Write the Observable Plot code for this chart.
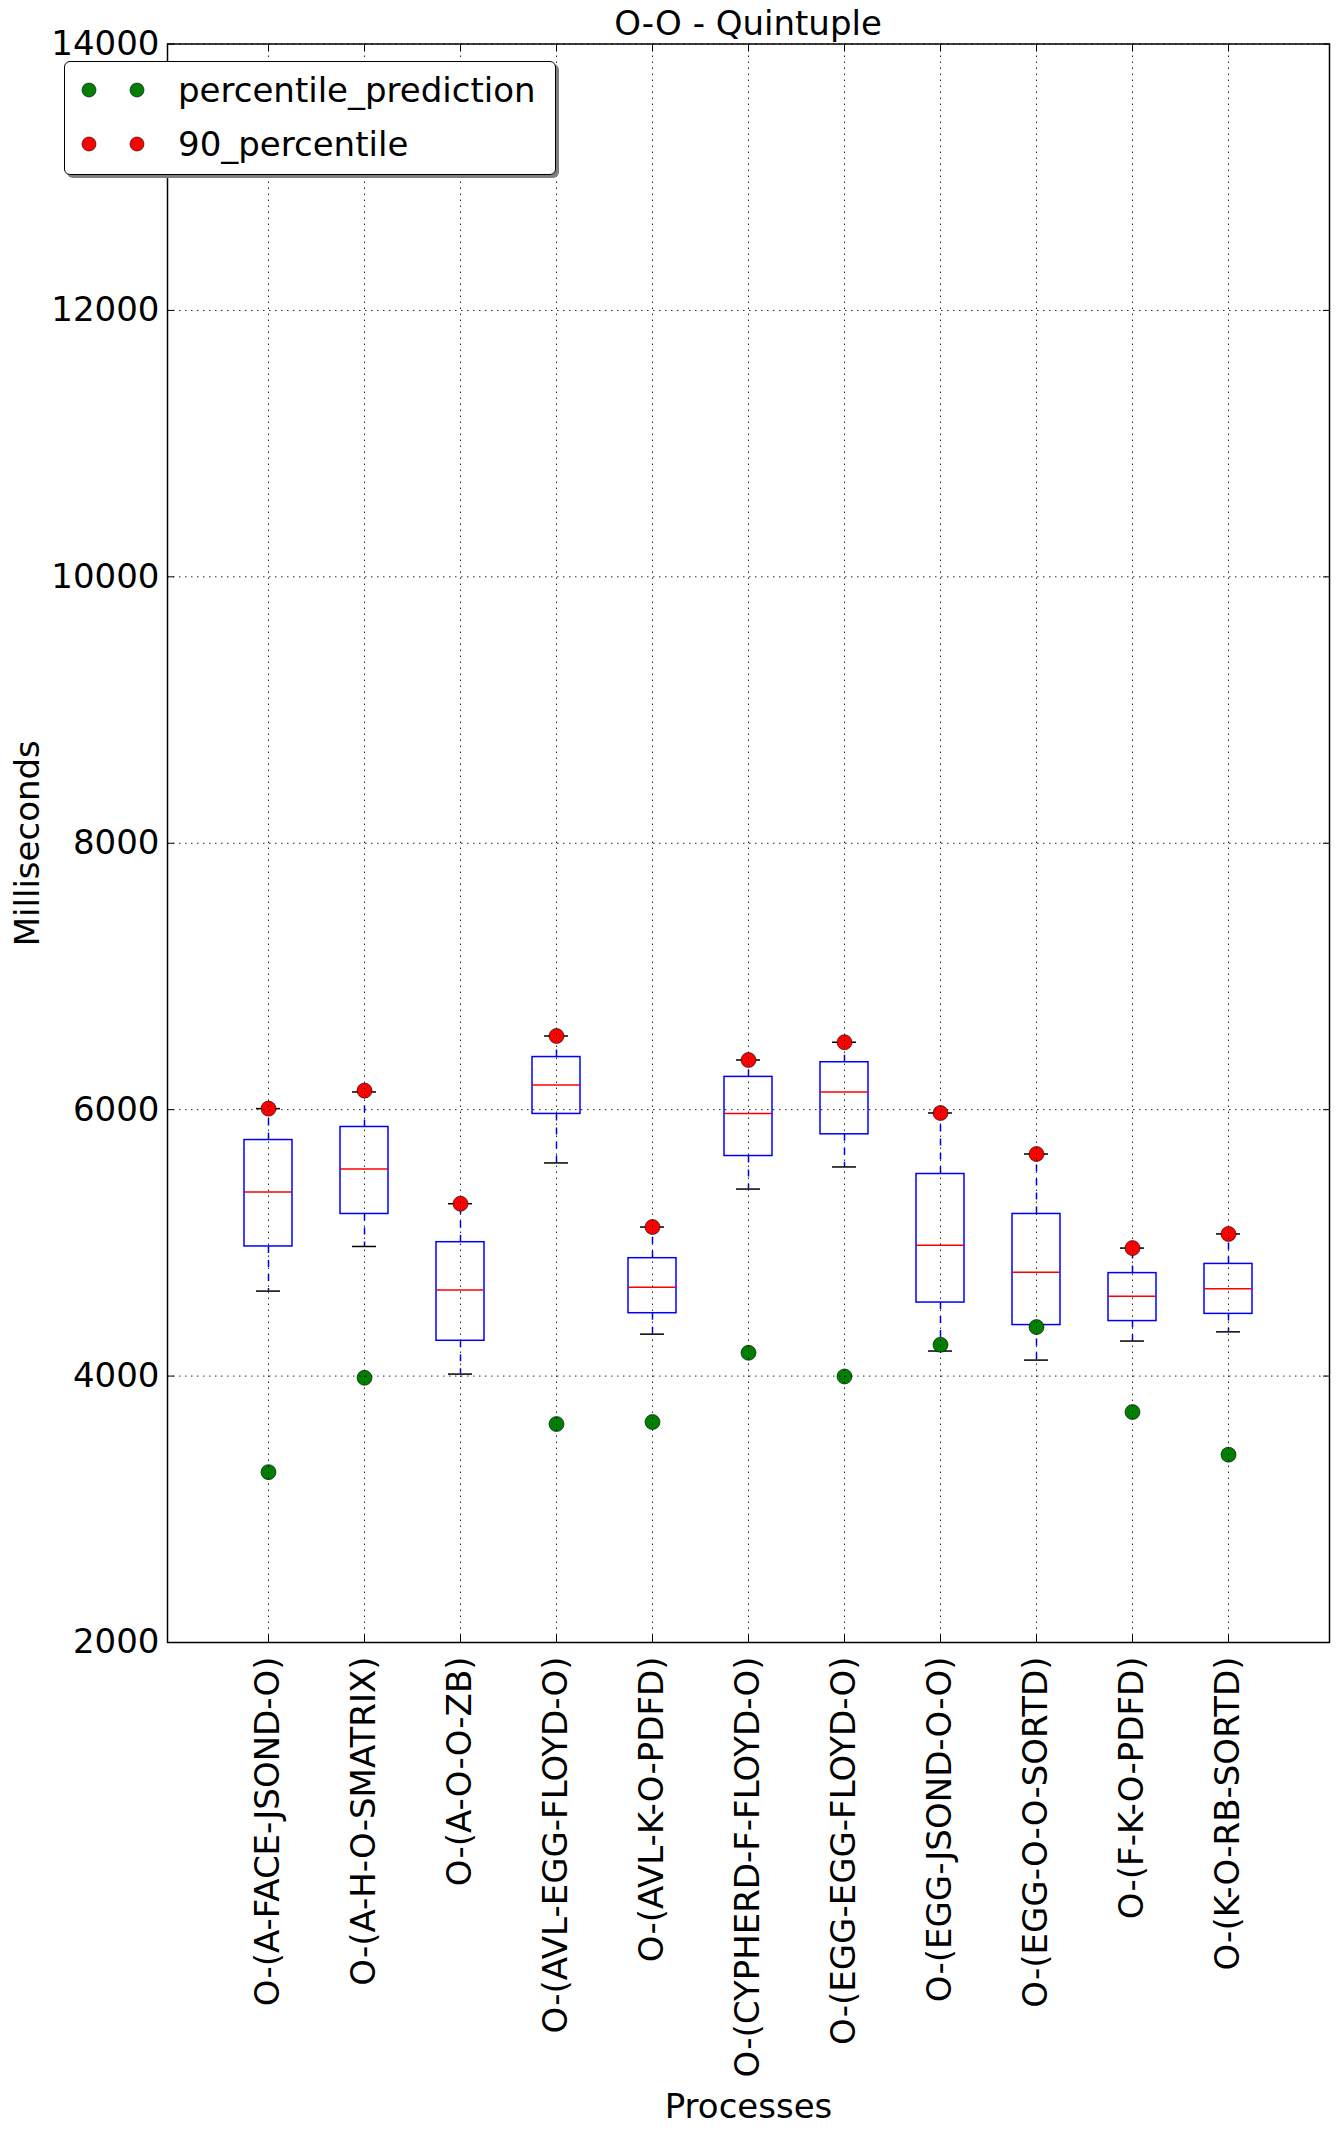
<!DOCTYPE html>
<html>
<head>
<meta charset="utf-8">
<script src="https://cdn.jsdelivr.net/npm/d3@7"></script>
<script src="https://cdn.jsdelivr.net/npm/@observablehq/plot@0.6"></script>
<style>
  html, body { margin: 0; padding: 0; background: white; }
  #wrap { position: relative; width: 1339px; height: 2132px; font-family: "DejaVu Sans", sans-serif; }
  #title { position: absolute; left: 167px; width: 1162px; top: 6px; text-align: center; font-size: 34px; line-height: 34px; color: #000; }
  #legend { position: absolute; left: 64px; top: 61px; width: 490px; height: 112px; border: 1.5px solid #000; border-radius: 6px; background: white; box-shadow: 3px 3px 0 #7f7f7f; }
  .lrow { position: absolute; left: 0; height: 40px; display: flex; align-items: center; }
  .lrow svg { position: absolute; left: 0; top: 0; }
  .lrow span { position: absolute; left: 113px; font-size: 34px; line-height: 34px; white-space: nowrap; }
</style>
</head>
<body>
<div id="wrap">
  <div id="chart"></div>
  <div id="title"></div>
  <div id="legend"></div>
</div>
<script>
const title = "O-O - Quintuple";
const xLabel = "Processes";
const yLabel = "Milliseconds";

const categories = [
  "O-(A-FACE-JSOND-O)", "O-(A-H-O-SMATRIX)", "O-(A-O-O-ZB)", "O-(AVL-EGG-FLOYD-O)",
  "O-(AVL-K-O-PDFD)", "O-(CYPHERD-F-FLOYD-O)", "O-(EGG-EGG-FLOYD-O)", "O-(EGG-JSOND-O-O)",
  "O-(EGG-O-O-SORTD)", "O-(F-K-O-PDFD)", "O-(K-O-RB-SORTD)"
];
const whiskerLow  = [4638, 4973, 4015, 5600, 4315, 5404, 5570, 4188, 4120, 4263, 4332];
const q1          = [4973, 5217, 4265, 5968, 4472, 5652, 5815, 4552, 4383, 4413, 4467];
const median      = [5382, 5555, 4646, 6185, 4667, 5972, 6133, 4983, 4780, 4600, 4655];
const q3          = [5772, 5870, 5005, 6395, 4885, 6246, 6356, 5517, 5217, 4773, 4842];
const whiskerHigh = [6008, 6133, 5294, 6553, 5119, 6373, 6506, 5975, 5667, 4961, 5067];
const percentile90 = [6008, 6143, 5294, 6553, 5119, 6373, 6506, 5975, 5667, 4961, 5067];
const percentilePrediction = [3279, 3987, null, 3640, 3655, 4175, 3997, 4235, 4368, 3730, 3410];
const yTicks = [2000, 4000, 6000, 8000, 10000, 12000, 14000];
const legendLabels = ["percentile_prediction", "90_percentile"];
const legendColors = ["green", "red"];

const rows = categories.map((c, i) => ({
  process: c, lo: whiskerLow[i], q1: q1[i], med: median[i], q3: q3[i],
  hi: whiskerHigh[i], p90: percentile90[i], pred: percentilePrediction[i]
}));
const predRows = rows.filter(d => d.pred != null);

const gridStyle = {stroke: "#000", strokeOpacity: 0.85, strokeWidth: 1, strokeDasharray: "1.5,4.5"};

const chart = Plot.plot({
  width: 1339,
  height: 2132,
  marginLeft: 167,
  marginRight: 10,
  marginTop: 43.5,
  marginBottom: 490,
  style: {fontFamily: "DejaVu Sans, sans-serif", fontSize: "34px", background: "white", color: "#000"},
  x: {type: "band", domain: categories, paddingInner: 0.5, paddingOuter: 0.75, align: 0.5},
  y: {domain: [2000, 14000]},
  marks: [
    Plot.ruleX(rows, {x: "process", y1: "q1", y2: "lo", stroke: "blue", strokeWidth: 1.5, strokeDasharray: "7,7"}),
    Plot.ruleX(rows, {x: "process", y1: "q3", y2: "hi", stroke: "blue", strokeWidth: 1.5, strokeDasharray: "7,7"}),
    Plot.barY(rows, {x: "process", y1: "q1", y2: "q3", fill: "white", stroke: "blue", strokeWidth: 1.5}),
    Plot.tickY(rows, {x: "process", y: "med", stroke: "red", strokeWidth: 1.5}),
    Plot.tickY(rows, {x: "process", y: "lo", stroke: "black", strokeWidth: 1.5, insetLeft: 12, insetRight: 12}),
    Plot.tickY(rows, {x: "process", y: "hi", stroke: "black", strokeWidth: 1.5, insetLeft: 12, insetRight: 12}),
    Plot.dot(predRows, {x: "process", y: "pred", r: 7.5, fill: "green", stroke: "black", strokeWidth: 0.6}),
    Plot.dot(rows, {x: "process", y: "p90", r: 7.5, fill: "red", stroke: "black", strokeWidth: 0.6}),
    Plot.gridX({...gridStyle}),
    Plot.gridY(yTicks, {...gridStyle}),
    Plot.frame({stroke: "#000", strokeWidth: 1.5}),
    Plot.axisY(yTicks, {anchor: "left", tickSize: 0, tickPadding: 8, tickFormat: d => String(d), label: yLabel, labelArrow: "none", labelAnchor: "center", labelOffset: 153}),
    Plot.axisY(yTicks, {anchor: "left", tickSize: -7, tickFormat: () => "", label: null}),
    Plot.axisY(yTicks, {anchor: "right", tickSize: -7, tickFormat: () => "", label: null}),
    Plot.axisX({anchor: "bottom", tickSize: 0, tickPadding: 14, tickRotate: -90, label: xLabel, labelAnchor: "center", labelOffset: 475}),
    Plot.axisX({anchor: "bottom", tickSize: -7, tickFormat: () => "", label: null}),
    Plot.axisX({anchor: "top", tickSize: -7, tickFormat: () => "", label: null})
  ]
});
document.getElementById("chart").appendChild(chart);
document.getElementById("title").textContent = title;

const legend = document.getElementById("legend");
legendLabels.forEach((lab, i) => {
  const row = document.createElement("div");
  row.className = "lrow";
  row.style.top = (8 + i * 54) + "px";
  row.style.width = "100%";
  row.innerHTML =
    `<svg width="100" height="40"><circle cx="24" cy="20" r="7" fill="${legendColors[i]}" stroke="black" stroke-width="0.6"/>` +
    `<circle cx="72" cy="20" r="7" fill="${legendColors[i]}" stroke="black" stroke-width="0.6"/></svg>` +
    `<span>${lab}</span>`;
  legend.appendChild(row);
});
</script>
</body>
</html>
